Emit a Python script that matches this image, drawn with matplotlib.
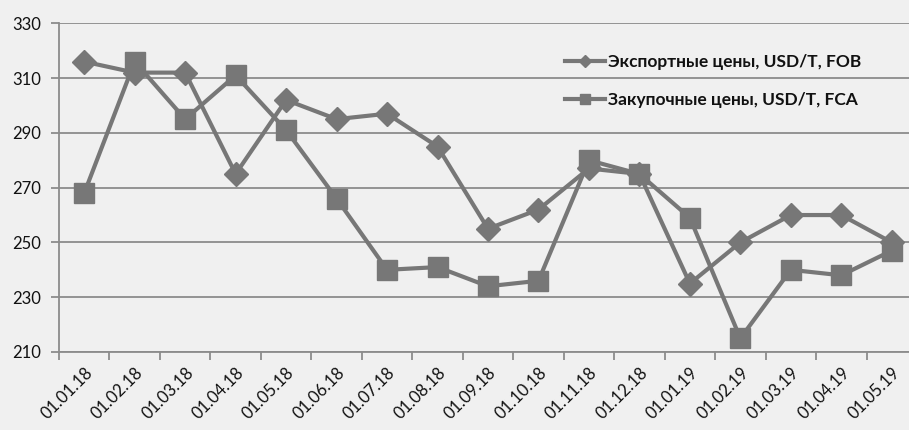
import matplotlib
matplotlib.use("Agg")
import matplotlib.pyplot as plt
import numpy as np

dates = ["01.01.18", "01.02.18", "01.03.18", "01.04.18", "01.05.18", "01.06.18",
         "01.07.18", "01.08.18", "01.09.18", "01.10.18", "01.11.18", "01.12.18",
         "01.01.19", "01.02.19", "01.03.19", "01.04.19", "01.05.19"]
export_fob = [316, 312, 312, 275, 302, 295, 297, 285, 255, 262, 277, 275, 235, 250, 260, 260, 250]
purchase_fca = [268, 316, 295, 311, 291, 266, 240, 241, 234, 236, 280, 275, 259, 215, 240, 238, 247]
yticks = [210, 230, 250, 270, 290, 310, 330]

plt.rcParams['font.family'] = ['Lato', 'DejaVu Sans']

bg = '#f0f0f0'
grey = '#777777'
fig = plt.figure(figsize=(9.09, 4.30), dpi=100, facecolor=bg)
ax = fig.add_axes([59/909, 78/430, (917-59)/909, (406.7-78)/430])
ax.set_facecolor(bg)

x = np.arange(len(dates))
ax.plot(x, export_fob, color=grey, lw=3.0, marker='D', markersize=12.5,
        label='Экспортные цены, USD/T, FOB', zorder=3)
ax.plot(x, purchase_fca, color=grey, lw=3.0, marker='s', markersize=14.5,
        label='Закупочные цены, USD/T, FCA', zorder=3)

ax.set_xlim(-0.5, len(dates) - 0.5)
ax.set_ylim(210, 330)
ax.set_yticks(yticks)
ax.set_yticklabels([str(v) for v in yticks], fontsize=12, color='#111111')
ax.yaxis.grid(True, color='#8c8c8c', lw=1.3)
ax.set_axisbelow(True)

ax.set_xticks(x)
ax.set_xticklabels(dates, rotation=45, ha='right', rotation_mode='anchor',
                   fontsize=12, color='#111111')
ax.set_xticks(np.arange(-0.5, len(dates)), minor=True)
ax.tick_params(axis='x', which='major', length=0, pad=9)
ax.tick_params(axis='x', which='minor', length=6, color='#8c8c8c', width=1.3)
ax.tick_params(axis='y', length=6, color='#8c8c8c', width=1.3, pad=7)

for s in ['top', 'right']:
    ax.spines[s].set_visible(False)
for s in ['left', 'bottom']:
    ax.spines[s].set_color('#8c8c8c')
    ax.spines[s].set_linewidth(1.3)

leg = ax.legend(loc='upper left', frameon=False,
                markerscale=0.5, handlelength=2.3, handletextpad=0.15,
                labelspacing=1.27, borderpad=0, borderaxespad=0,
                prop={'weight': 'bold', 'size': 12.5})
for t in leg.get_texts():
    t.set_color('#111111')
leg.set_bbox_to_anchor((565/909, 1 - 54/430), transform=fig.transFigure)

fig.savefig('out.png', dpi=100, facecolor=bg)
